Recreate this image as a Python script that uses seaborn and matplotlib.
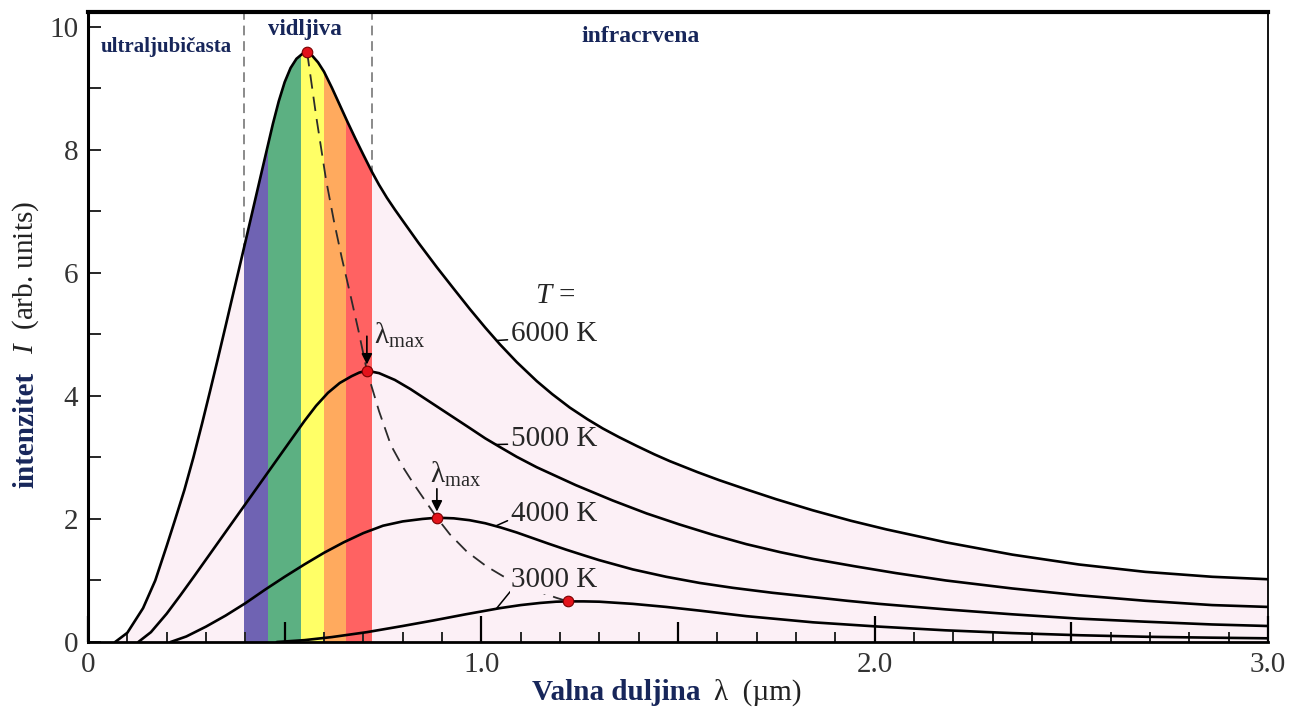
import numpy as np
import pandas as pd
import matplotlib
matplotlib.use("Agg")
import matplotlib.pyplot as plt
from matplotlib.ticker import MultipleLocator
import seaborn as sns

# Krivulje zračenja crnog tijela očitane sa slike (lambda u µm, intenzitet u arb. units)
lam_6000 = [0.069, 0.10, 0.14, 0.171, 0.20, 0.221, 0.245, 0.268, 0.29, 0.31,
            0.33, 0.35, 0.365, 0.382, 0.40, 0.42, 0.44, 0.455, 0.47, 0.485,
            0.50, 0.515, 0.53, 0.545, 0.557, 0.57, 0.585, 0.60, 0.62, 0.64,
            0.66, 0.68, 0.70, 0.722, 0.74, 0.76, 0.78, 0.801, 0.84, 0.887,
            0.93, 0.971, 1.01, 1.047, 1.09, 1.141, 1.18, 1.225, 1.27, 1.309,
            1.35, 1.394, 1.44, 1.479, 1.55, 1.605, 1.674, 1.75, 1.843, 1.94,
            2.03, 2.181, 2.35, 2.519, 2.688, 2.858, 3.0]
int_6000 = [0.0, 0.15, 0.55, 1.0, 1.56, 1.98, 2.47, 3.0, 3.55, 4.07,
            4.60, 5.14, 5.55, 6.01, 6.50, 7.05, 7.60, 8.01, 8.42, 8.79,
            9.10, 9.33, 9.48, 9.56, 9.59, 9.53, 9.42, 9.27, 9.01, 8.73,
            8.45, 8.18, 7.92, 7.64, 7.43, 7.22, 7.03, 6.84, 6.49, 6.09,
            5.74, 5.41, 5.11, 4.84, 4.55, 4.24, 4.03, 3.81, 3.62, 3.47,
            3.33, 3.19, 3.05, 2.94, 2.76, 2.63, 2.48, 2.32, 2.14, 1.97,
            1.83, 1.62, 1.42, 1.26, 1.14, 1.06, 1.02]

lam_5000 = [0.128, 0.16, 0.20, 0.235, 0.27, 0.31, 0.35, 0.39, 0.43, 0.47,
            0.51, 0.55, 0.58, 0.61, 0.64, 0.67, 0.69, 0.709, 0.74, 0.78,
            0.82, 0.87, 0.92, 0.97, 1.01, 1.047, 1.09, 1.141, 1.24, 1.334,
            1.42, 1.504, 1.59, 1.674, 1.76, 1.843, 1.95, 2.054, 2.181, 2.35,
            2.519, 2.688, 2.858, 3.0]
int_5000 = [0.0, 0.16, 0.46, 0.76, 1.07, 1.43, 1.79, 2.15, 2.51, 2.87,
            3.23, 3.59, 3.84, 4.05, 4.21, 4.32, 4.38, 4.41, 4.37, 4.26,
            4.11, 3.90, 3.69, 3.48, 3.31, 3.17, 3.01, 2.84, 2.55, 2.30,
            2.09, 1.91, 1.74, 1.59, 1.46, 1.35, 1.23, 1.12, 1.00, 0.87,
            0.76, 0.67, 0.60, 0.57]

lam_4000 = [0.21, 0.25, 0.30, 0.35, 0.40, 0.45, 0.50, 0.55, 0.60, 0.65,
            0.70, 0.75, 0.80, 0.85, 0.887, 0.93, 0.97, 1.01, 1.05, 1.09,
            1.13, 1.17, 1.216, 1.26, 1.30, 1.385, 1.47, 1.555, 1.64, 1.74,
            1.843, 1.93, 2.011, 2.181, 2.35, 2.519, 2.688, 2.858, 3.0]
int_4000 = [0.0, 0.09, 0.25, 0.43, 0.63, 0.85, 1.06, 1.26, 1.45, 1.62,
            1.77, 1.89, 1.96, 2.00, 2.02, 2.01, 1.98, 1.93, 1.86, 1.78,
            1.69, 1.60, 1.50, 1.41, 1.33, 1.18, 1.06, 0.96, 0.88, 0.80,
            0.73, 0.67, 0.62, 0.53, 0.45, 0.38, 0.33, 0.285, 0.26]

lam_3000 = [0.48, 0.55, 0.62, 0.709, 0.80, 0.878, 0.96, 1.047, 1.10, 1.15,
            1.19, 1.22, 1.26, 1.30, 1.385, 1.47, 1.555, 1.674, 1.843, 2.011,
            2.18, 2.35, 2.52, 2.69, 2.86, 3.0]
int_3000 = [0.0, 0.03, 0.08, 0.16, 0.26, 0.35, 0.45, 0.55, 0.60, 0.635,
            0.655, 0.66, 0.66, 0.655, 0.62, 0.57, 0.51, 0.42, 0.32, 0.25,
            0.19, 0.145, 0.11, 0.085, 0.07, 0.06]

temperatures = [6000, 5000, 4000, 3000]

# maksimumi (crvene točke) i Wienova krivulja kroz njih
peak_lam = [0.557, 0.709, 0.887, 1.22]
peak_int = [9.59, 4.41, 2.02, 0.66]
wien_lam = [0.557, 0.58, 0.605, 0.625, 0.645, 0.665, 0.688, 0.709, 0.74, 0.77,
            0.80, 0.83, 0.86, 0.887, 0.92, 0.963, 1.013, 1.055, 1.10, 1.15,
            1.19, 1.22]
wien_int = [9.59, 8.55, 7.52, 6.85, 6.25, 5.70, 5.05, 4.41, 3.75, 3.20,
            2.85, 2.55, 2.27, 2.02, 1.75, 1.47, 1.23, 1.07, 0.93, 0.81,
            0.72, 0.66]

# vidljivi dio spektra
band_edges = [0.397, 0.458, 0.542, 0.600, 0.656, 0.722]
band_colors = ["#6f63b3", "#5cb082", "#ffff66", "#ffaa5e", "#ff6262"]

x_ticks = [0, 1, 2, 3]
x_tick_labels = ["0", "1.0", "2.0", "3.0"]
x_half_ticks = [0.5, 1.5, 2.5]
y_ticks = [0, 2, 4, 6, 8, 10]

curves = {6000: (lam_6000, int_6000), 5000: (lam_5000, int_5000),
          4000: (lam_4000, int_4000), 3000: (lam_3000, int_3000)}
df = pd.concat([pd.DataFrame({"lam": l, "I": i, "T": t})
                for t, (l, i) in curves.items()], ignore_index=True)

sns.set_theme(style="white")
plt.rcParams["font.family"] = ["Liberation Serif", "DejaVu Serif"]
plt.rcParams["mathtext.fontset"] = "custom"
plt.rcParams["mathtext.rm"] = "Liberation Serif"
plt.rcParams["mathtext.it"] = "Liberation Serif:italic"
plt.rcParams["mathtext.bf"] = "Liberation Serif:bold"

NAVY = "#17265a"
PINK = "#fcf0f6"

fig = plt.figure(figsize=(13, 7.09), dpi=100)
ax = fig.add_axes([88 / 1300, 1 - 642 / 709, 1180 / 1300, 630 / 709])
ax.set_axisbelow(False)

# ružičasta površina ispod krivulje 6000 K i obojene trake
fill = ax.fill_between(lam_6000, int_6000, 0, color=PINK, lw=0, zorder=1)
clip = fill.get_paths()[0]
for left, right, c in zip(band_edges[:-1], band_edges[1:], band_colors):
    span = ax.axvspan(left, right, color=c, lw=0, zorder=1.5)
    span.set_clip_path(clip, ax.transData)

for v in (band_edges[0], band_edges[-1]):
    ax.axvline(v, color="#8a8a8a", lw=1.4, dashes=(5, 3), zorder=0.8)

sns.lineplot(data=df, x="lam", y="I", hue="T",
             palette={t: "black" for t in temperatures},
             estimator=None, sort=False, legend=False, lw=1.9, zorder=3, ax=ax)

ax.plot(wien_lam, wien_int, color="#2b2b2b", lw=1.3, dashes=(8, 4.5), zorder=3.5)

sns.scatterplot(x=peak_lam, y=peak_int, color="#e3131b", edgecolor="#7a0000",
                linewidth=0.8, s=58, zorder=5, ax=ax)

# oznake temperatura
label_fs = 21
leader = dict(arrowstyle="-", color="black", lw=1.1, shrinkA=0, shrinkB=0)
ax.annotate("6000 K", xy=(1.038, 4.90), xytext=(1.075, 5.0), ha="left", va="center",
            fontsize=label_fs, arrowprops=dict(leader, relpos=(0, 0.3)), zorder=6)
ax.annotate("5000 K", xy=(1.038, 3.21), xytext=(1.075, 3.30), ha="left", va="center",
            fontsize=label_fs, arrowprops=dict(leader, relpos=(0, 0.3)), zorder=6)
ax.annotate("4000 K", xy=(1.038, 1.89), xytext=(1.075, 2.08), ha="left", va="center",
            fontsize=label_fs, arrowprops=dict(leader, relpos=(0, 0.3)), zorder=6)
ax.annotate("3000 K", xy=(1.038, 0.54), xytext=(1.075, 1.0), ha="left", va="center",
            fontsize=label_fs, zorder=6,
            bbox=dict(boxstyle="square,pad=0.02", fc=PINK, ec="none"),
            arrowprops=dict(leader, relpos=(0, 0.1)))
ax.text(1.136, 5.62, r"$T$ =", ha="left", va="center", fontsize=label_fs, zorder=6)

# lambda_max oznake sa strelicama
arrow = dict(arrowstyle="-|>", color="black", lw=1.2, mutation_scale=16,
             shrinkA=0, shrinkB=0)
ax.text(0.728, 4.98, r"$\mathrm{λ}_{\mathrm{max}}$", ha="left", va="center",
        fontsize=label_fs, zorder=6)
ax.annotate("", xy=(peak_lam[1], peak_int[1] + 0.1),
            xytext=(peak_lam[1], peak_int[1] + 0.56), arrowprops=arrow, zorder=6)
ax.text(0.869, 2.72, r"$\mathrm{λ}_{\mathrm{max}}$", ha="left", va="center",
        fontsize=label_fs, zorder=6)
ax.annotate("", xy=(peak_lam[2], peak_int[2] + 0.1),
            xytext=(peak_lam[2], peak_int[2] + 0.47), arrowprops=arrow, zorder=6)

# područja spektra
ax.text(0.032, 9.67, "ultraljubičasta", ha="left", va="center", fontsize=15,
        fontweight="bold", color=NAVY)
ax.text(0.552, 9.95, "vidljiva", ha="center", va="center", fontsize=16.5,
        fontweight="bold", color=NAVY)
ax.text(1.405, 9.84, "infracrvena", ha="center", va="center", fontsize=17,
        fontweight="bold", color=NAVY)

# osi
ax.set_xlim(0, 3.0)
ax.set_ylim(0, 10.24)
ax.set_xlabel("")
ax.set_ylabel("")
ax.set_xticks(x_ticks, x_tick_labels)
ax.xaxis.set_minor_locator(MultipleLocator(0.1))
ax.set_yticks(y_ticks, [str(t) for t in y_ticks])
ax.yaxis.set_minor_locator(MultipleLocator(1))
ax.tick_params(axis="x", which="major", direction="in", length=19, width=1.6,
               pad=7, labelsize=21, bottom=True, top=False, colors="black")
ax.tick_params(axis="x", which="minor", direction="in", length=7, width=1.4,
               bottom=True, top=False)
ax.tick_params(axis="y", which="both", direction="in", length=9, width=1.4,
               pad=7, labelsize=21, left=True, right=False)
ax.tick_params(axis="both", labelcolor="#333333")
ax.vlines(x_half_ticks, 0, 0.032, transform=ax.get_xaxis_transform(),
          color="black", lw=1.6, zorder=4)

for side, lw in {"top": 3.0, "left": 2.2, "bottom": 2.0, "right": 1.3}.items():
    ax.spines[side].set_visible(True)
    ax.spines[side].set_color("black")
    ax.spines[side].set_linewidth(lw)
    ax.spines[side].set_zorder(6)

# naslovi osi (mješoviti stil)
fig.text(700 / 1300, 1 - 700 / 709, "Valna duljina", ha="right", va="baseline",
         fontsize=21, fontweight="bold", color=NAVY)
fig.text(714 / 1300, 1 - 700 / 709, "λ  (µm)", ha="left", va="baseline",
         fontsize=21, color="#222222")
fig.text(33 / 1300, 1 - 488 / 709, "intenzitet", rotation=90, rotation_mode="anchor",
         ha="left", va="baseline", fontsize=21, fontweight="bold", color=NAVY)
fig.text(33 / 1300, 1 - 354 / 709, r"$I$  (arb. units)", rotation=90,
         rotation_mode="anchor", ha="left", va="baseline", fontsize=21, color="#222222")

fig.savefig("out.png", dpi=100)
